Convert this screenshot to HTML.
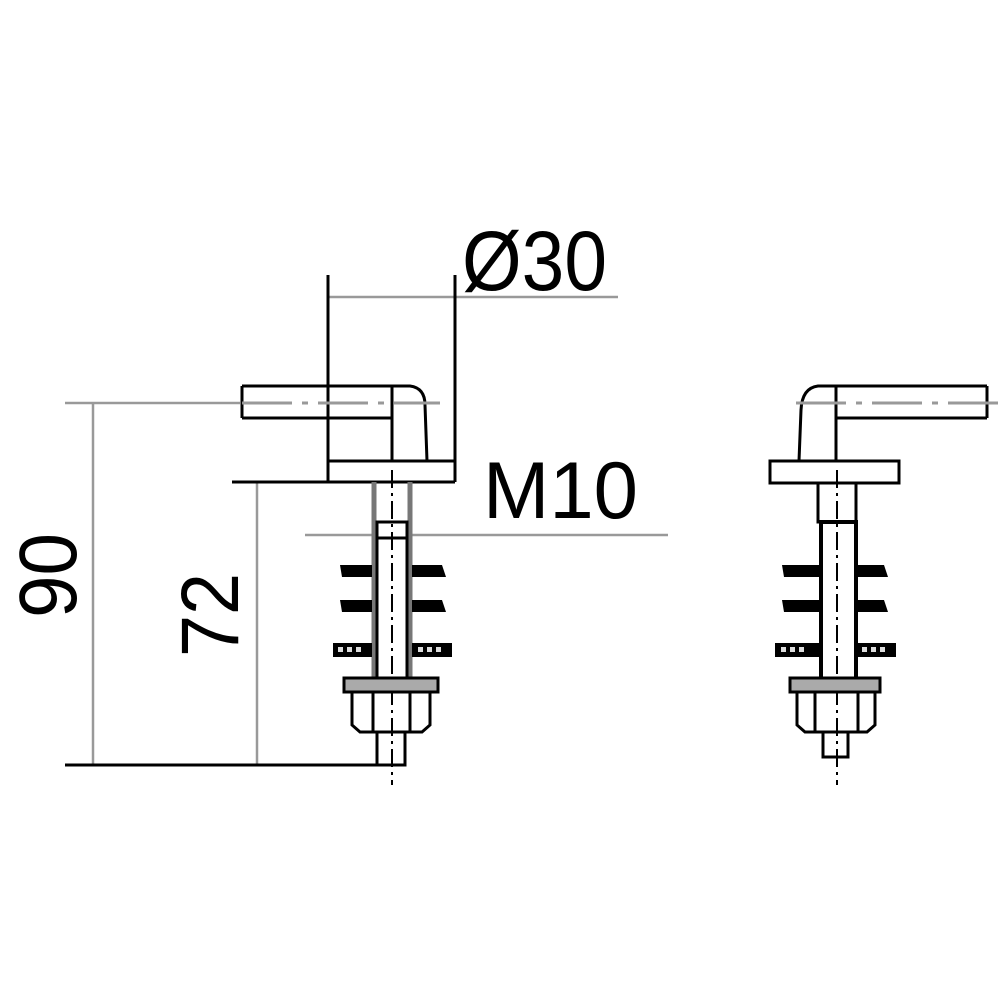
<!DOCTYPE html>
<html><head><meta charset="utf-8"><style>
html,body{margin:0;padding:0;background:#fff;}
svg{display:block;}
text{font-family:"Liberation Sans",sans-serif;fill:#000;}
</style></head><body>
<svg width="1000" height="1000" viewBox="0 0 1000 1000" xmlns="http://www.w3.org/2000/svg">
<rect width="1000" height="1000" fill="#fff"/>
<g stroke="#999" stroke-width="2.5" fill="none">
  <line x1="65" y1="403" x2="240" y2="403"/>
  <line x1="93" y1="403" x2="93" y2="765"/>
  <line x1="257" y1="482" x2="257" y2="765"/>
  <line x1="328" y1="297" x2="618" y2="297"/>
  <line x1="305" y1="535" x2="372" y2="535"/>
  <line x1="412" y1="535" x2="668" y2="535"/>
</g>
<g stroke="#000" stroke-width="3" fill="none">
  <line x1="328" y1="275" x2="328" y2="482"/>
  <line x1="455" y1="275" x2="455" y2="482"/>
  <line x1="65" y1="765" x2="405" y2="765"/>
  <line x1="232" y1="482" x2="455" y2="482"/>
</g>
<g stroke="#000" stroke-width="3" fill="none">
  <path d="M242 386 H410 Q425 388 425 405 L427 461"/>
  <line x1="242" y1="386" x2="242" y2="418"/>
  <line x1="242" y1="418" x2="392" y2="418"/>
  <line x1="392" y1="386" x2="392" y2="461"/>
  <line x1="328" y1="461" x2="455" y2="461"/>
  <line x1="374" y1="482" x2="374" y2="680" stroke="#777" stroke-width="5"/>
  <line x1="410" y1="482" x2="410" y2="680" stroke="#777" stroke-width="5"/>
  <rect x="377" y="522" width="30" height="158"/>
  <line x1="377" y1="538" x2="407" y2="538"/>
</g>
<g stroke="#999" stroke-width="3" stroke-dasharray="50 10 6 10">
  <line x1="242" y1="403" x2="440" y2="403"/>
</g>
<g stroke="#000" stroke-width="2" stroke-dasharray="18 5 3 5">
  <line x1="392" y1="470" x2="392" y2="785"/>
</g>
<g fill="#000">
  <path d="M340 565 H372 V577 H342 Z"/><path d="M412 565 H442 L446 577 H412 Z"/>
  <path d="M340 600 H372 V612 H342 Z"/><path d="M412 600 H442 L446 612 H412 Z"/>
  <rect x="333" y="643" width="39" height="14"/><rect x="412" y="643" width="40" height="14"/>
</g>
<g fill="#ddd">
  <rect x="338" y="647" width="5" height="5"/><rect x="347" y="647" width="5" height="5"/><rect x="356" y="647" width="5" height="5"/>
  <rect x="418" y="647" width="5" height="5"/><rect x="427" y="647" width="5" height="5"/><rect x="436" y="647" width="5" height="5"/>
</g>
<g stroke="#000" stroke-width="3" fill="none">
  <rect x="344" y="678" width="94" height="14" fill="#aaa"/>
  <path d="M352 692 V725 L360 732 H422 L430 725 V692"/>
  <line x1="373" y1="692" x2="373" y2="732"/>
  <line x1="410" y1="692" x2="410" y2="732"/>
  <rect x="377" y="732" width="28" height="33"/>
</g>
<g stroke="#000" stroke-width="3" fill="none">
  <path d="M987 386 H818 Q802 388 801 410 L799 461"/>
  <line x1="987" y1="386" x2="987" y2="418"/>
  <line x1="836" y1="418" x2="987" y2="418"/>
  <line x1="836" y1="386" x2="836" y2="461"/>
  <rect x="770" y="461" width="129" height="22"/>
  <rect x="818" y="483" width="38" height="39"/>
  <rect x="821" y="522" width="35" height="158" stroke-width="4"/>
</g>
<g stroke="#999" stroke-width="3" stroke-dasharray="50 10 6 10">
  <line x1="998" y1="403" x2="787" y2="403"/>
</g>
<g stroke="#000" stroke-width="2" stroke-dasharray="18 5 3 5">
  <line x1="837" y1="470" x2="837" y2="785"/>
</g>
<g fill="#000">
  <path d="M782 565 H820 V577 H784 Z"/><path d="M856 565 H884 L888 577 H856 Z"/>
  <path d="M782 600 H820 V612 H784 Z"/><path d="M856 600 H884 L888 612 H856 Z"/>
  <rect x="775" y="643" width="45" height="14"/><rect x="856" y="643" width="40" height="14"/>
</g>
<g fill="#ddd">
  <rect x="781" y="647" width="5" height="5"/><rect x="790" y="647" width="5" height="5"/><rect x="799" y="647" width="5" height="5"/>
  <rect x="862" y="647" width="5" height="5"/><rect x="871" y="647" width="5" height="5"/><rect x="880" y="647" width="5" height="5"/>
</g>
<g stroke="#000" stroke-width="3" fill="none">
  <rect x="790" y="678" width="90" height="14" fill="#aaa"/>
  <path d="M797 692 V725 L805 732 H867 L875 725 V692"/>
  <line x1="815" y1="692" x2="815" y2="732"/>
  <line x1="858" y1="692" x2="858" y2="732"/>
  <rect x="823" y="732" width="25" height="25"/>
</g>
<text x="462" y="290" font-size="84" textLength="145" lengthAdjust="spacingAndGlyphs">Ø30</text>
<text x="483" y="518" font-size="81" textLength="155" lengthAdjust="spacingAndGlyphs">M10</text>
<text transform="translate(76,618) rotate(-90)" font-size="82" textLength="85" lengthAdjust="spacingAndGlyphs">90</text>
<text transform="translate(238,657) rotate(-90)" font-size="82" textLength="84" lengthAdjust="spacingAndGlyphs">72</text>
</svg>
</body></html>
